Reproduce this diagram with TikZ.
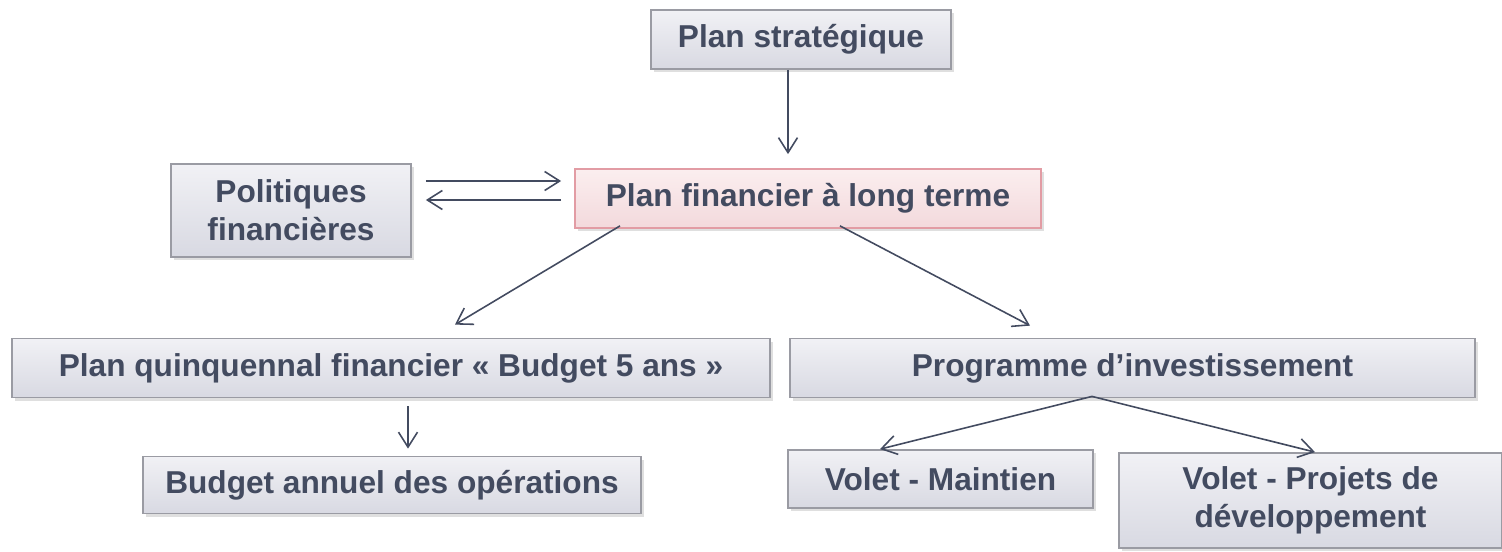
\documentclass[tikz,border=0pt]{standalone}
\usepackage{fontspec}
\setmainfont{Liberation Sans}
\usetikzlibrary{arrows.meta,shadows}
\definecolor{txt}{HTML}{434B60}
\definecolor{boxtop}{HTML}{F1F1F5}
\definecolor{boxbot}{HTML}{D8D9E2}
\definecolor{boxline}{HTML}{9A9BA3}
\definecolor{pinktop}{HTML}{FBEEEF}
\definecolor{pinkbot}{HTML}{F3D9DC}
\definecolor{pinkline}{HTML}{E29CA4}
\begin{document}
\begin{tikzpicture}[
  box/.style={draw=boxline,line width=1pt,top color=boxtop,bottom color=boxbot,
    text=txt,font=\fontsize{18}{21.6}\selectfont\bfseries,align=center,
    inner sep=0pt,drop shadow={opacity=.25,shadow xshift=.06cm,shadow yshift=-.06cm}},
  pinkbox/.style={box,draw=pinkline,top color=pinktop,bottom color=pinkbot},
  arr/.style={draw=txt,line width=.9pt,-{Straight Barb[length=.3cm,width=.38cm]}}]
\useasboundingbox (0,0) rectangle (30.04,-11.02);
\node[box,minimum width=6cm,minimum height=1.18cm] (strat) at (16.02,-.79) {Plan stratégique};
\node[box,minimum width=4.8cm,minimum height=1.86cm] (polit) at (5.82,-4.21) {Politiques\\financières};
\node[pinkbox,minimum width=9.32cm,minimum height=1.18cm] (lt) at (16.16,-3.97) {Plan financier à long terme};
\node[box,minimum width=15.16cm,minimum height=1.18cm] (quinq) at (7.82,-7.36) {Plan quinquennal financier « Budget 5 ans »};
\node[box,minimum width=13.7cm,minimum height=1.18cm] (prog) at (22.65,-7.36) {Programme d’investissement};
\node[box,minimum width=9.96cm,minimum height=1.14cm] (budget) at (7.84,-9.7) {Budget annuel des opérations};
\node[box,minimum width=6.1cm,minimum height=1.16cm] (maint) at (18.81,-9.58) {Volet - Maintien};
\node[box,minimum width=7.66cm,minimum height=1.9cm] (proj) at (26.21,-10.01) {Volet - Projets de\\développement};
\draw[arr,shorten >=.28cm] ([xshift=-.26cm]strat.south) -- ([xshift=-.26cm]strat.south |- lt.north);
\draw[arr,shorten <=.28cm,shorten >=.26cm] ([yshift=.35cm]lt.west -| polit.east) -- ([yshift=.35cm]lt.west);
\draw[arr,shorten <=.26cm,shorten >=.28cm] ([yshift=-.03cm]lt.west) -- ([yshift=-.03cm]lt.west -| polit.east);
\draw[arr] ([xshift=-3.76cm,yshift=.06cm]lt.south) -- ([xshift=1.28cm,yshift=.26cm]quinq.north);
\draw[arr] ([xshift=.64cm,yshift=.06cm]lt.south) -- ([xshift=-2.05cm,yshift=.24cm]prog.north);
\draw[arr,shorten <=.16cm,shorten >=.14cm] ([xshift=.34cm]quinq.south) -- ([xshift=.34cm]quinq.south |- budget.north);
\draw[arr] ([xshift=-.81cm,yshift=.04cm]prog.south) -- ([xshift=-1.21cm]maint.north);
\draw[arr] ([xshift=-.81cm,yshift=.04cm]prog.south) -- ([xshift=.09cm]proj.north);
\end{tikzpicture}
\end{document}
